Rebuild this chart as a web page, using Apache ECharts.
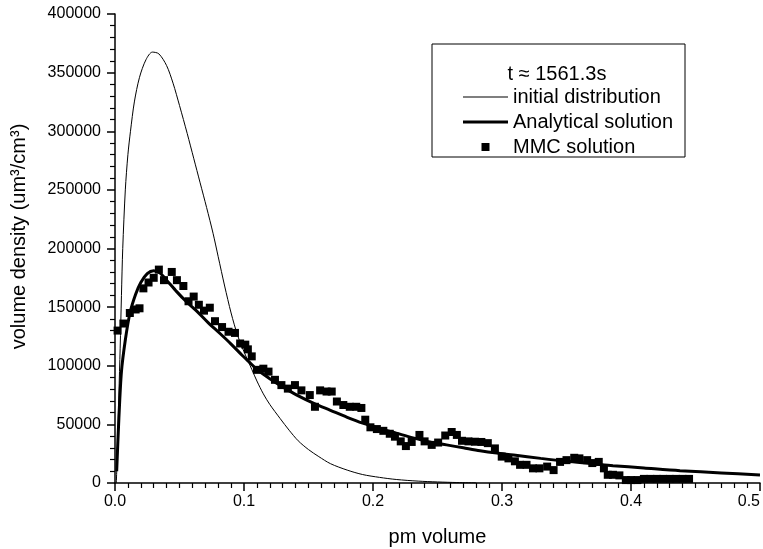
<!DOCTYPE html>
<html>
<head>
<meta charset="utf-8">
<script src="https://cdn.jsdelivr.net/npm/echarts@6/dist/echarts.min.js"></script>
<style>
  html, body { margin: 0; padding: 0; background: #fff; }
  #chart { width: 763px; height: 549px; }
</style>
</head>
<body>
<div id="chart"></div>
<script>
    // initial distribution (thin line)
    var initialX = [0.001, 0.002, 0.003, 0.004, 0.005, 0.006, 0.008, 0.010, 0.012, 0.015, 0.019, 0.024, 0.029, 0.034,
        0.040, 0.045, 0.050, 0.056, 0.061, 0.066, 0.071, 0.076, 0.080, 0.085, 0.090, 0.095, 0.100, 0.106, 0.110,
        0.115, 0.120, 0.128, 0.135, 0.142, 0.150, 0.158, 0.167, 0.180, 0.192, 0.205, 0.218, 0.235, 0.250, 0.265, 0.280];
    var initialY = [0, 30000, 75000, 115000, 160000, 200000, 250000, 280000, 300000, 325000, 346000, 361000, 367500, 366000,
        356000, 341000, 322000, 298000, 277000, 256000, 235000, 213000, 193000, 168000, 145000, 126000, 112000, 97000, 87000,
        76000, 67000, 55000, 45000, 36000, 28500, 22500, 16500, 11000, 7200, 4800, 3000, 1600, 900, 400, 100];

    // analytical solution (thick line)
    var analyticX = [0.0013, 0.003, 0.005, 0.008, 0.0116, 0.016, 0.020, 0.025, 0.030, 0.035, 0.040, 0.048, 0.055, 0.063,
        0.072, 0.0814, 0.090, 0.0985, 0.1033, 0.110, 0.120, 0.130, 0.141, 0.155, 0.167, 0.180, 0.192, 0.205, 0.218,
        0.231, 0.244, 0.257, 0.270, 0.283, 0.296, 0.309, 0.330, 0.350, 0.370, 0.386, 0.410, 0.438, 0.470, 0.500];
    var analyticY = [10000, 55000, 95000, 122000, 145000, 161000, 171000, 178500, 181000, 179000, 173000, 163000, 155000, 147000,
        137000, 127500, 118500, 109000, 104000, 97000, 89000, 82000, 75000, 67500, 62000, 56000, 51000, 46500, 42500,
        38500, 35000, 32500, 30000, 27500, 25500, 23900, 21000, 18500, 16500, 14800, 12800, 10500, 8600, 6800];

    // MMC solution (squares)
    var mmcX = [0.002, 0.0065, 0.0115, 0.016, 0.019, 0.022, 0.026, 0.030, 0.034, 0.038, 0.044, 0.048, 0.053, 0.057,
        0.061, 0.065, 0.069, 0.0735, 0.0775, 0.083, 0.088, 0.093, 0.097, 0.101, 0.103, 0.106, 0.110, 0.115, 0.119,
        0.124, 0.129, 0.134, 0.1395, 0.1445, 0.151, 0.155, 0.159, 0.164, 0.168, 0.172, 0.177, 0.182, 0.187, 0.191,
        0.194, 0.198, 0.203, 0.208, 0.213, 0.217, 0.2215, 0.2255, 0.230, 0.236, 0.240, 0.2455, 0.2505, 0.256, 0.261,
        0.265, 0.269, 0.274, 0.279, 0.284, 0.289, 0.2945, 0.2998, 0.305, 0.310, 0.314, 0.319, 0.324, 0.329, 0.335,
        0.340, 0.345, 0.350, 0.356, 0.360, 0.366, 0.370, 0.375, 0.379, 0.382, 0.386, 0.391, 0.396, 0.400, 0.405,
        0.410, 0.415, 0.420, 0.425, 0.430, 0.435, 0.440, 0.445];
    var mmcY = [130000, 136000, 145000, 148000, 149000, 166000, 171000, 175000, 182000, 173000, 180000, 173000, 168000, 155000,
        159000, 152000, 147000, 149500, 138000, 133000, 129000, 128000, 119000, 118000, 114000, 108000, 96500, 97500, 95000,
        88000, 83500, 80500, 83500, 79000, 75000, 65000, 79000, 78000, 78000, 69500, 66500, 65000, 65000, 64000,
        54000, 47500, 46000, 44500, 42000, 39500, 35500, 31500, 35000, 41000, 35500, 32500, 34500, 40500, 43500,
        41000, 36000, 35500, 35200, 35000, 34000, 29500, 22500, 21000, 18500, 15500, 15500, 12500, 12500, 14000,
        11000, 18000, 19500, 21500, 21000, 19500, 17000, 18000, 12500, 7000, 7000, 6500, 2500, 2500, 2500,
        3500, 3500, 3500, 3500, 3500, 3500, 3500, 3500];

    var xTicks = ['0.0', '0.1', '0.2', '0.3', '0.4', '0.5'];
    var legendTitle = 't \u2248 1561.3s';

    function pairs(xs, ys) {
        var out = [];
        for (var i = 0; i < xs.length; i++) {
            out.push([xs[i], ys[i]]);
        }
        return out;
    }

    var font = 'Liberation Sans, Arial, sans-serif';
    var myChart = echarts.init(document.getElementById('chart'));

    var option = {
        animation: false,
        textStyle: {fontFamily: font, color: '#000'},
        grid: {left: 115, right: 3, top: 14, bottom: 66, outerBoundsMode: 'none'},
        graphic: [
            {
                type: 'rect',
                shape: {x: 432, y: 44, width: 253, height: 113},
                style: {fill: 'none', stroke: '#000', lineWidth: 1}
            },
            {
                type: 'text',
                x: 557, y: 74,
                style: {
                    text: legendTitle, fontSize: 20, fontFamily: font, fill: '#000',
                    align: 'center', verticalAlign: 'middle'
                }
            }
        ],
        legend: {
            left: 463,
            top: 87,
            orient: 'vertical',
            itemWidth: 45,
            itemHeight: 14,
            itemGap: 5,
            padding: 0,
            textStyle: {fontSize: 20, color: '#000', fontFamily: font},
            data: [
                {name: 'initial distribution', icon: 'path://M0,0h45v1h-45z'},
                {name: 'Analytical solution', icon: 'path://M0,0h45v3h-45z'},
                {name: 'MMC solution', icon: 'path://M0,0M14,14M3,3h8v8h-8z'}
            ]
        },
        xAxis: {
            type: 'value',
            min: 0,
            max: 0.5,
            interval: 0.1,
            name: 'pm volume',
            nameLocation: 'middle',
            nameGap: 44,
            nameTextStyle: {fontSize: 20, color: '#000'},
            axisLine: {lineStyle: {color: '#000', width: 1.5}},
            axisTick: {inside: false, length: 8, lineStyle: {color: '#000', width: 1.5}},
            minorTick: {show: true, splitNumber: 10, length: 5, lineStyle: {color: '#000', width: 1.2}},
            axisLabel: {
                fontSize: 16, color: '#000', margin: 11,
                alignMaxLabel: 'right',
                formatter: function (v) { return xTicks[Math.round(v * 10)]; }
            },
            splitLine: {show: false}
        },
        yAxis: {
            type: 'value',
            min: 0,
            max: 400000,
            interval: 50000,
            name: 'volume density (um\u00b3/cm\u00b3)',
            nameLocation: 'middle',
            nameGap: 86,
            nameRotate: 90,
            nameTextStyle: {fontSize: 20, color: '#000', padding: [0, 0, 0, 24]},
            axisLine: {show: true, lineStyle: {color: '#000', width: 1.5}},
            axisTick: {show: true, inside: false, length: 8, lineStyle: {color: '#000', width: 1.5}},
            minorTick: {show: true, splitNumber: 5, length: 5, lineStyle: {color: '#000', width: 1.2}},
            axisLabel: {
                fontSize: 16, color: '#000', margin: 14,
                formatter: function (v) { return String(v); }
            },
            splitLine: {show: false}
        },
        series: [
            {
                name: 'initial distribution',
                type: 'line',
                data: pairs(initialX, initialY),
                symbol: 'none',
                smooth: 0.3,
                lineStyle: {color: '#000', width: 1},
                itemStyle: {color: '#000'}
            },
            {
                name: 'Analytical solution',
                type: 'line',
                data: pairs(analyticX, analyticY),
                symbol: 'none',
                smooth: 0.3,
                lineStyle: {color: '#000', width: 3},
                itemStyle: {color: '#000'},
                z: 3
            },
            {
                name: 'MMC solution',
                type: 'scatter',
                data: pairs(mmcX, mmcY),
                symbol: 'rect',
                symbolSize: 8,
                itemStyle: {color: '#000', opacity: 1},
                z: 4
            }
        ]
    };

    myChart.setOption(option);
    window.onresize = myChart.resize;
</script>
</body>
</html>
